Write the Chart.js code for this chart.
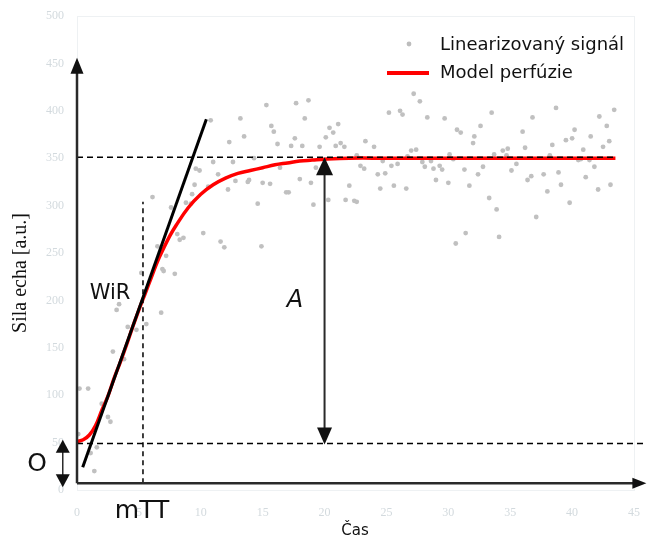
<!DOCTYPE html>
<html>
<head>
<meta charset="utf-8">
<script src="https://cdn.jsdelivr.net/npm/chart.js@4.4.0/dist/chart.umd.min.js"></script>
<style>
  html, body { margin: 0; padding: 0; background: #fff; }
</style>
</head>
<body>
<canvas id="graf" width="648" height="540"></canvas>
<script>
// ========================
// Dáta (odčítané z obrázka)
// ========================
const signalT = [0.1, 0.2, 0.9, 1.1, 1.4, 1.6, 2.0, 2.5, 2.7, 2.9, 3.2, 3.4, 3.8, 4.1, 4.8, 5.2, 5.6, 6.1, 6.5, 6.8,
  6.9, 7.0, 7.2, 7.6, 7.9, 8.1, 8.3, 8.6, 8.8, 9.2, 9.3, 9.5, 9.6, 9.9, 10.2, 10.6, 10.8, 11.0, 11.4, 11.6,
  11.9, 12.2, 12.3, 12.6, 12.8, 13.2, 13.5, 13.8, 13.9, 14.3, 14.6, 14.9, 15.0, 15.3, 15.6, 15.7, 15.9, 16.2, 16.4, 16.9,
  17.1, 17.3, 17.6, 17.7, 18.0, 18.2, 18.4, 18.7, 18.9, 19.1, 19.3, 19.6, 20.1, 20.3, 20.4, 20.7, 20.9, 21.1, 21.3, 21.6,
  21.7, 22.0, 22.4, 22.6, 22.6, 22.9, 23.2, 23.3, 24.0, 24.3, 24.5, 24.7, 24.9, 25.2, 25.4, 25.6, 25.9, 26.1, 26.3, 26.6,
  26.7, 27.0, 27.2, 27.4, 27.7, 27.9, 28.1, 28.3, 28.6, 28.8, 29.0, 29.3, 29.5, 29.7, 30.0, 30.1, 30.4, 30.6, 30.7, 31.0,
  31.3, 31.4, 31.7, 32.0, 32.1, 32.4, 32.6, 32.8, 33.3, 33.5, 33.7, 33.9, 34.1, 34.4, 34.7, 34.8, 35.1, 35.5, 36.0, 36.2,
  36.4, 36.7, 36.8, 37.1, 37.7, 38.0, 38.2, 38.4, 38.7, 38.9, 39.1, 39.5, 39.8, 40.0, 40.2, 40.5, 40.7, 40.9, 41.1, 41.4,
  41.5, 41.8, 42.1, 42.2, 42.5, 42.8, 43.0, 43.1, 43.4];
const signalV = [59, 107, 107, 39, 20, 45, 91, 77, 72, 146, 190, 196, 138, 172, 169, 229, 175, 309, 257, 187,
  233, 231, 247, 298, 228, 270, 264, 266, 303, 302, 312, 322, 339, 337, 271, 320, 390, 346, 333, 262,
  256, 317, 367, 346, 326, 392, 373, 325, 327, 350, 302, 257, 324, 406, 323, 384, 378, 365, 340, 314,
  314, 363, 371, 408, 328, 363, 392, 411, 324, 301, 340, 362, 372, 306, 382, 377, 363, 386, 366, 362,
  306, 321, 305, 304, 353, 342, 339, 368, 362, 333, 318, 347, 334, 398, 342, 321, 344, 400, 396, 318,
  352, 358, 418, 359, 410, 346, 341, 393, 347, 339, 327, 342, 338, 392, 324, 354, 349, 260, 380, 377,
  338, 271, 321, 366, 373, 333, 384, 341, 308, 398, 354, 296, 267, 358, 353, 360, 337, 344, 378, 361,
  327, 331, 393, 288, 333, 315, 353, 364, 403, 335, 322, 369, 303, 371, 380, 348, 349, 359, 330, 348,
  373, 341, 317, 394, 362, 384, 368, 322, 401];

const modelT = [0, 0.5, 1, 1.5, 2, 2.5, 3, 3.5, 4, 4.5, 5, 5.5, 6, 6.5, 7, 7.5, 8, 9, 10, 11,
  12, 13, 14, 15, 16, 17, 18, 19, 20, 22, 25, 30, 35, 40, 43.5];
const modelV = [51, 53, 58, 68, 84, 99, 118, 135, 153, 172, 190, 207, 224, 241, 255, 268, 279, 298, 312, 322,
  329, 334, 337, 340, 343, 345, 347, 348, 349, 350, 350, 350, 350, 350, 350];

// dotyčnica (WiR) a pomocné úrovne
const tangentT = [0.46, 10.45];
const tangentV = [24, 391];
const plateauT = [0, 43.5];
const plateauV = [351, 351];
const baseT = [0, 46];
const baseV = [49, 49];
const mttT = [5.33, 5.33];
const mttV = [7, 304];

// osi a šípky
const axisV = 7;          // vodorovná os
const yArrowTop = 456;    // hrot zvislej osi
const xArrowEnd = 46;     // hrot vodorovnej osi
const ampT = 20;          // šípka A
const ampV = [351, 48];
const offT = -1.15;       // šípka O
const offV = [53, 3];

const xTicks = [0, 5, 10, 15, 20, 25, 30, 35, 40, 45];
const yTicks = [0, 50, 100, 150, 200, 250, 300, 350, 400, 450, 500];

// ========================
// Plugin: osi, šípky, popisy, legenda
// ========================
function hrot(ctx, x, y, dir, w, h) {
  ctx.beginPath();
  if (dir === "up") { ctx.moveTo(x, y); ctx.lineTo(x - w / 2, y + h); ctx.lineTo(x + w / 2, y + h); }
  if (dir === "down") { ctx.moveTo(x, y); ctx.lineTo(x - w / 2, y - h); ctx.lineTo(x + w / 2, y - h); }
  if (dir === "right") { ctx.moveTo(x, y); ctx.lineTo(x - h, y - w / 2); ctx.lineTo(x - h, y + w / 2); }
  ctx.closePath();
  ctx.fill();
}

const overlay = {
  id: "overlay",
  beforeDatasetsDraw(chart) {
    const ctx = chart.ctx, a = chart.chartArea;
    ctx.save();
    ctx.strokeStyle = "#eef1f3";
    ctx.lineWidth = 1;
    ctx.strokeRect(a.left + 0.5, a.top + 0.5, a.right - a.left, a.bottom - a.top);
    ctx.restore();
  },
  afterDatasetsDraw(chart) {
    const ctx = chart.ctx;
    const X = v => chart.scales.x.getPixelForValue(v);
    const Y = v => chart.scales.y.getPixelForValue(v);
    ctx.save();

    // osi
    ctx.strokeStyle = "#2a2a2a";
    ctx.fillStyle = "#111";
    ctx.lineWidth = 2.5;
    ctx.beginPath();
    ctx.moveTo(X(0), Y(axisV));
    ctx.lineTo(X(0), Y(yArrowTop) + 12);
    ctx.moveTo(X(0), Y(axisV));
    ctx.lineTo(X(xArrowEnd) - 12, Y(axisV));
    ctx.stroke();
    hrot(ctx, X(0), Y(yArrowTop), "up", 13, 16);
    hrot(ctx, X(xArrowEnd), Y(axisV), "right", 11, 14);

    // šípka A
    ctx.lineWidth = 2;
    ctx.beginPath();
    ctx.moveTo(X(ampT), Y(ampV[0]) + 15);
    ctx.lineTo(X(ampT), Y(ampV[1]) - 15);
    ctx.stroke();
    hrot(ctx, X(ampT), Y(ampV[0]), "up", 17, 18);
    hrot(ctx, X(ampT), Y(ampV[1]), "down", 15, 17);

    // šípka O
    ctx.lineWidth = 1.5;
    ctx.beginPath();
    ctx.moveTo(X(offT), Y(offV[0]) + 10);
    ctx.lineTo(X(offT), Y(offV[1]) - 10);
    ctx.stroke();
    hrot(ctx, X(offT), Y(offV[0]), "up", 14, 13);
    hrot(ctx, X(offT), Y(offV[1]), "down", 14, 13);

    // popisy
    ctx.fillStyle = "#111";
    ctx.textAlign = "center";
    ctx.textBaseline = "middle";
    ctx.font = "21px 'DejaVu Sans'";
    ctx.fillText("WiR", 110, 294);
    ctx.font = "25px 'DejaVu Sans'";
    ctx.fillText("mTT", 142, 511);
    ctx.fillText("O", 37, 464);
    ctx.font = "italic 24px 'DejaVu Sans'";
    ctx.fillText("A", 295, 301);
    ctx.font = "15px 'DejaVu Sans'";
    ctx.fillText("Čas", 355, 531);

    // názov osi y
    ctx.save();
    ctx.translate(21, 273);
    ctx.rotate(-Math.PI / 2);
    ctx.font = "20px 'Liberation Serif'";
    ctx.fillText("Sila echa [a.u.]", 0, 0);
    ctx.restore();

    // legenda
    ctx.textAlign = "left";
    ctx.font = "18px 'DejaVu Sans'";
    ctx.fillStyle = "#bdbdbd";
    ctx.beginPath();
    ctx.arc(409, 44, 2.4, 0, Math.PI * 2);
    ctx.fill();
    ctx.strokeStyle = "#ff0000";
    ctx.lineWidth = 4;
    ctx.beginPath();
    ctx.moveTo(387, 73);
    ctx.lineTo(429, 73);
    ctx.stroke();
    ctx.fillStyle = "#111";
    ctx.fillText("Linearizovaný signál", 440, 45);
    ctx.fillText("Model perfúzie", 440, 73);

    ctx.restore();
  }
};

// ========================
// Graf
// ========================
const ctx = document.getElementById("graf").getContext("2d");
new Chart(ctx, {
  type: "scatter",
  data: {
    datasets: [
      {
        label: "Linearizovaný signál",
        data: signalT.map((t, i) => ({ x: t, y: signalV[i] })),
        backgroundColor: "#c0c0c0",
        borderWidth: 0,
        pointRadius: 2.4,
        order: 5
      },
      {
        type: "line",
        label: "Model perfúzie",
        data: modelT.map((t, i) => ({ x: t, y: modelV[i] })),
        borderColor: "#ff0000",
        borderWidth: 3.5,
        pointRadius: 0,
        tension: 0.4,
        order: 4
      },
      {
        type: "line",
        data: tangentT.map((t, i) => ({ x: t, y: tangentV[i] })),
        borderColor: "#000",
        borderWidth: 3,
        pointRadius: 0,
        order: 3
      },
      {
        type: "line",
        data: plateauT.map((t, i) => ({ x: t, y: plateauV[i] })),
        borderColor: "#000",
        borderWidth: 1.5,
        borderDash: [6, 4],
        pointRadius: 0,
        order: 2
      },
      {
        type: "line",
        data: baseT.map((t, i) => ({ x: t, y: baseV[i] })),
        borderColor: "#000",
        borderWidth: 1.5,
        borderDash: [6, 4],
        pointRadius: 0,
        clip: false,
        order: 2
      },
      {
        type: "line",
        data: mttT.map((t, i) => ({ x: t, y: mttV[i] })),
        borderColor: "#000",
        borderWidth: 1.5,
        borderDash: [5, 4],
        pointRadius: 0,
        order: 2
      }
    ]
  },
  options: {
    responsive: false,
    animation: false,
    layout: { padding: { top: 16, right: 14, left: 0, bottom: 0 } },
    plugins: { legend: { display: false }, tooltip: { enabled: false } },
    scales: {
      x: {
        type: "linear",
        min: 0,
        max: 45,
        afterFit: s => { s.height = 50; },
        afterBuildTicks: s => { s.ticks = xTicks.map(v => ({ value: v })); },
        grid: { display: false },
        border: { display: false },
        ticks: { color: "#d3dade", padding: 8, font: { family: "Liberation Serif", size: 12 } }
      },
      y: {
        min: 0,
        max: 500,
        afterFit: s => { s.width = 77; },
        afterBuildTicks: s => { s.ticks = yTicks.map(v => ({ value: v })); },
        grid: { display: false },
        border: { display: false },
        ticks: { color: "#d3dade", padding: 5, font: { family: "Liberation Serif", size: 12 } }
      }
    }
  },
  plugins: [overlay]
});
</script>
</body>
</html>
